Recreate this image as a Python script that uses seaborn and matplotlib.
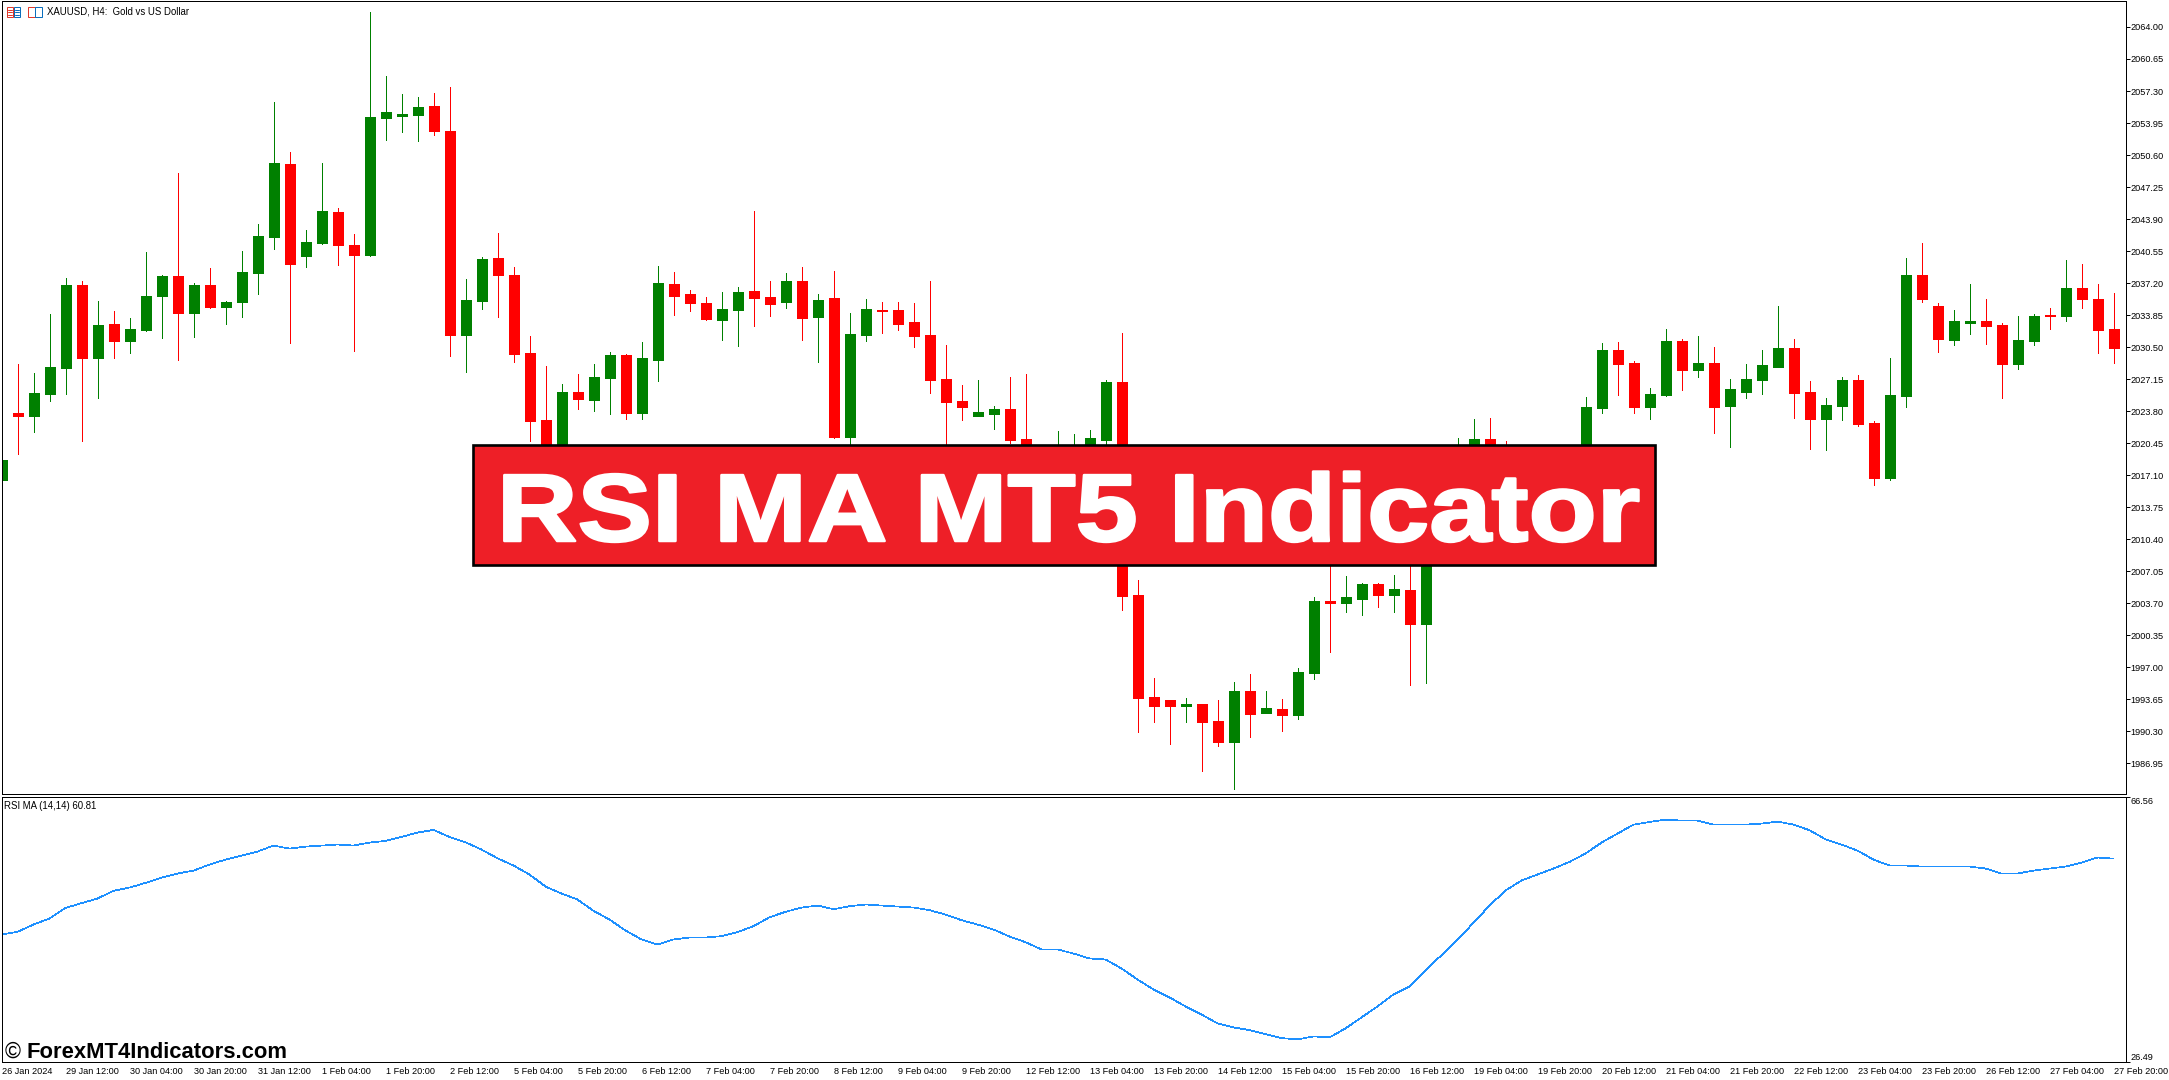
import matplotlib
matplotlib.use('Agg')
import matplotlib.pyplot as plt
import matplotlib.patheffects as pe
from matplotlib.patches import Rectangle
from matplotlib.transforms import Affine2D
import pandas as pd
import seaborn as sns

# XAUUSD H4 candles (the ones behind the banner are guesses)
opens = [
    2016.59, 2023.59, 2023.28, 2025.58, 2028.30, 2036.97, 2029.34, 2032.90, 2031.12, 2032.27,
    2035.82, 2037.91, 2034.05, 2036.97, 2034.67, 2035.20, 2038.23, 2041.99, 2049.62, 2040.01,
    2041.36, 2044.61, 2041.16, 2040.11, 2054.43, 2054.64, 2054.75, 2055.69, 2053.07, 2031.75,
    2035.30, 2039.80, 2038.02, 2029.86, 2022.86, 2017.63, 2025.79, 2024.95, 2027.25, 2029.65,
    2023.59, 2029.13, 2037.08, 2036.03, 2035.09, 2033.32, 2034.35, 2036.33, 2035.71, 2035.18,
    2037.41, 2033.65, 2035.63, 2021.08, 2031.74, 2034.35, 2034.35, 2033.11, 2031.74, 2027.16,
    2024.84, 2023.27, 2023.48, 2024.01, 2020.87, 2018.80, 2018.60, 2019.20, 2019.60, 2020.75,
    2026.83, 2004.54, 1993.88, 1993.59, 1992.97, 1993.17, 1991.40, 1989.21, 1994.54, 1992.22,
    1992.64, 1992.02, 1996.40, 2003.92, 2003.72, 2004.13, 2005.70, 2004.54, 2005.08, 2001.52,
    2016.00, 2018.00, 2019.80, 2020.85, 2019.80, 2018.00, 2015.00, 2016.00, 2018.50, 2018.00,
    2024.09, 2030.16, 2028.80, 2024.20, 2025.45, 2031.10, 2028.07, 2028.80, 2024.30, 2025.77,
    2027.02, 2028.38, 2030.37, 2025.77, 2022.94, 2024.30, 2027.02, 2022.53, 2016.78, 2025.35,
    2038.00, 2034.86, 2031.20, 2033.08, 2033.19, 2032.77, 2028.69, 2031.10, 2033.82, 2033.71,
    2036.74, 2035.59, 2032.35,
]
closes = [
    2018.68, 2023.28, 2025.68, 2028.40, 2036.97, 2029.34, 2032.79, 2031.12, 2032.37, 2035.82,
    2037.91, 2034.05, 2036.97, 2034.67, 2035.20, 2038.33, 2042.10, 2049.73, 2039.17, 2041.47,
    2044.71, 2041.16, 2040.11, 2054.54, 2055.06, 2054.85, 2055.58, 2053.07, 2031.75, 2035.40,
    2039.69, 2038.02, 2029.76, 2022.75, 2017.63, 2025.79, 2025.05, 2027.35, 2029.65, 2023.59,
    2029.34, 2037.18, 2035.82, 2035.09, 2033.42, 2034.47, 2036.25, 2035.63, 2034.97, 2037.41,
    2033.52, 2035.42, 2021.08, 2031.87, 2034.47, 2034.24, 2032.90, 2031.62, 2027.03, 2024.76,
    2024.22, 2023.68, 2024.01, 2020.75, 2019.50, 2019.40, 2019.50, 2019.60, 2020.98, 2026.83,
    2004.46, 1993.79, 1992.97, 1992.97, 1993.17, 1991.27, 1989.21, 1994.54, 1992.10, 1992.76,
    1992.02, 1996.52, 2003.92, 2003.72, 2004.34, 2005.70, 2004.54, 2005.20, 2001.52, 2011.00,
    2013.00, 2019.90, 2020.85, 2018.50, 2017.00, 2016.00, 2018.00, 2018.50, 2017.00, 2024.20,
    2030.16, 2028.69, 2024.20, 2025.56, 2031.10, 2028.07, 2028.80, 2024.20, 2026.08, 2027.13,
    2028.59, 2030.37, 2025.66, 2022.94, 2024.41, 2027.02, 2022.42, 2016.78, 2025.45, 2038.00,
    2035.49, 2031.31, 2033.19, 2033.19, 2032.67, 2028.69, 2031.20, 2033.71, 2033.71, 2036.74,
    2035.49, 2032.25, 2030.37,
]
highs = [
    2020.00, 2028.78, 2027.77, 2033.94, 2037.71, 2037.39, 2035.30, 2034.25, 2033.52, 2040.42,
    2038.02, 2048.68, 2037.18, 2038.75, 2035.30, 2040.53, 2043.35, 2056.11, 2050.88, 2042.72,
    2049.73, 2045.02, 2042.31, 2065.52, 2058.82, 2056.94, 2056.63, 2057.05, 2057.67, 2037.60,
    2039.90, 2042.41, 2038.86, 2031.64, 2028.50, 2026.62, 2027.67, 2028.71, 2029.97, 2029.76,
    2031.01, 2038.96, 2038.33, 2036.45, 2035.72, 2036.25, 2036.75, 2044.73, 2037.41, 2038.24,
    2038.86, 2036.04, 2038.52, 2034.06, 2035.51, 2035.18, 2035.18, 2035.09, 2037.41, 2030.71,
    2026.54, 2027.03, 2024.30, 2027.36, 2027.65, 2019.60, 2021.71, 2021.40, 2021.81, 2027.03,
    2031.95, 2006.11, 1995.94, 1993.63, 1993.79, 1993.22, 1993.59, 1995.45, 1996.32, 1994.54,
    1993.67, 1996.90, 2004.34, 2012.40, 2006.57, 2005.82, 2005.82, 2006.65, 2012.00, 2014.00,
    2018.00, 2020.96, 2022.94, 2023.05, 2020.64, 2019.50, 2019.00, 2019.00, 2019.50, 2025.24,
    2030.89, 2030.99, 2029.01, 2026.18, 2032.35, 2031.31, 2031.62, 2030.47, 2027.13, 2028.69,
    2030.16, 2034.86, 2031.31, 2026.92, 2025.14, 2027.33, 2027.54, 2022.73, 2029.32, 2039.88,
    2041.45, 2035.07, 2034.34, 2037.16, 2035.59, 2032.98, 2033.71, 2033.92, 2034.65, 2039.57,
    2039.25, 2037.06, 2036.22,
]
lows = [
    2015.00, 2019.30, 2021.60, 2024.85, 2025.58, 2020.66, 2025.16, 2029.34, 2029.86, 2032.16,
    2031.43, 2029.13, 2031.54, 2034.57, 2032.90, 2033.63, 2036.03, 2040.74, 2030.91, 2038.85,
    2041.26, 2039.06, 2030.07, 2040.01, 2052.13, 2052.97, 2052.03, 2052.66, 2029.55, 2027.88,
    2034.46, 2033.63, 2028.92, 2020.66, 2016.50, 2016.50, 2024.01, 2023.80, 2023.49, 2022.96,
    2022.96, 2026.94, 2033.84, 2034.25, 2033.31, 2031.21, 2030.59, 2032.70, 2033.73, 2034.56,
    2031.21, 2028.93, 2021.00, 2020.33, 2031.12, 2031.95, 2032.28, 2030.50, 2025.67, 2016.60,
    2022.86, 2023.27, 2021.91, 2020.46, 2018.50, 2018.20, 2018.00, 2018.00, 2019.00, 2020.00,
    2003.01, 1990.28, 1991.27, 1989.00, 1991.27, 1986.15, 1988.79, 1984.29, 1989.70, 1992.22,
    1990.36, 1991.60, 1995.78, 1998.59, 2002.77, 2002.48, 2003.30, 2002.77, 1995.16, 1995.37,
    2011.00, 2016.00, 2018.00, 2017.00, 2015.00, 2015.00, 2014.00, 2015.00, 2016.00, 2017.00,
    2023.57, 2025.45, 2023.57, 2022.94, 2025.35, 2025.98, 2027.33, 2021.48, 2020.02, 2025.14,
    2025.56, 2028.38, 2023.05, 2019.81, 2019.70, 2022.84, 2022.21, 2016.04, 2016.57, 2024.20,
    2035.18, 2029.95, 2030.68, 2031.83, 2030.78, 2025.14, 2028.17, 2030.68, 2032.35, 2033.29,
    2034.65, 2029.84, 2028.80,
]
rsi_ma = [
    45.74, 46.14, 47.25, 48.15, 49.76, 50.47, 51.17, 52.33, 52.83, 53.53,
    54.34, 54.94, 55.39, 56.30, 57.05, 57.66, 58.26, 59.17, 58.71, 59.01,
    59.17, 59.32, 59.17, 59.62, 59.87, 60.47, 61.13, 61.53, 60.47, 59.67,
    58.56, 57.25, 56.15, 54.79, 52.98, 51.92, 51.02, 49.31, 48.00, 46.34,
    44.99, 44.23, 44.99, 45.29, 45.29, 45.49, 46.09, 47.00, 48.35, 49.16,
    49.81, 50.11, 49.56, 50.01, 50.27, 50.11, 49.96, 49.81, 49.41, 48.76,
    47.90, 47.25, 46.49, 45.44, 44.58, 43.48, 43.48, 42.87, 42.12, 41.97,
    40.61, 38.95, 37.44, 36.24, 34.88, 33.67, 32.32, 31.71, 31.31, 30.71,
    30.10, 29.90, 30.35, 30.20, 31.56, 33.22, 34.88, 36.69, 37.90, 40.36,
    42.62, 44.99, 47.50, 50.11, 52.38, 53.89, 54.79, 55.70, 56.70, 57.96,
    59.62, 60.98, 62.33, 62.73, 63.09, 62.94, 62.94, 62.33, 62.33, 62.33,
    62.48, 62.79, 62.33, 61.48, 60.12, 59.32, 58.41, 57.05, 56.15, 56.15,
    56.00, 56.00, 56.00, 56.00, 55.70, 54.94, 54.94, 55.39, 55.70, 56.00,
    56.60, 57.36, 57.20,
]
price_ticks = [1986.95, 1990.30, 1993.65, 1997.00, 2000.35, 2003.70, 2007.05, 2010.40,
               2013.75, 2017.10, 2020.45, 2023.80, 2027.15, 2030.50, 2033.85, 2037.20,
               2040.55, 2043.90, 2047.25, 2050.60, 2053.95, 2057.30, 2060.65, 2064.00]
rsi_ticks = [26.49, 66.56]
date_labels = ['26 Jan 2024', '29 Jan 12:00', '30 Jan 04:00', '30 Jan 20:00', '31 Jan 12:00',
               '1 Feb 04:00', '1 Feb 20:00', '2 Feb 12:00', '5 Feb 04:00', '5 Feb 20:00',
               '6 Feb 12:00', '7 Feb 04:00', '7 Feb 20:00', '8 Feb 12:00', '9 Feb 04:00',
               '9 Feb 20:00', '12 Feb 12:00', '13 Feb 04:00', '13 Feb 20:00', '14 Feb 12:00',
               '15 Feb 04:00', '15 Feb 20:00', '16 Feb 12:00', '19 Feb 04:00', '19 Feb 20:00',
               '20 Feb 12:00', '21 Feb 04:00', '21 Feb 20:00', '22 Feb 12:00', '23 Feb 04:00',
               '23 Feb 20:00', '26 Feb 12:00', '27 Feb 04:00', '27 Feb 20:00']

W, H = 2169, 1080
BULL = '#008000'
BEAR = '#FF0000'
LINE_W = 0.72  # one pixel at dpi 100
SMALL = 6.55

sns.set_theme(style='white')
plt.rcParams['font.family'] = ['Liberation Sans', 'DejaVu Sans']

# long format, one short line per candle for the wick and one for the body
rows_wick, rows_body = [], []
for i in range(len(opens)):
    side = 'up' if closes[i] >= opens[i] else 'down'
    rows_wick += [(i, highs[i], side), (i, lows[i], side)]
    rows_body += [(i, opens[i], side), (i, closes[i], side)]
wicks = pd.DataFrame(rows_wick, columns=['bar', 'price', 'side'])
bodies = pd.DataFrame(rows_body, columns=['bar', 'price', 'side'])
rsi = pd.DataFrame({'bar': range(len(rsi_ma)), 'value': rsi_ma})
palette = {'up': BULL, 'down': BEAR}

fig = plt.figure(figsize=(W / 100, H / 100), dpi=100, facecolor='white')


def panel(top, bottom):
    return fig.add_axes([1.5 / W, 1 - bottom / H, 2124 / W, (bottom - top) / H])


ax1 = panel(0.5, 794.4)
ax2 = panel(796.6, 1062)

for data, width in [(wicks, LINE_W), (bodies, 7.92)]:
    sns.lineplot(data=data, x='bar', y='price', hue='side', units='bar', estimator=None,
                 palette=palette, linewidth=width, legend=False, ax=ax1,
                 solid_capstyle='butt', antialiased=False)
sns.lineplot(data=rsi, x='bar', y='value', color='#1E90FF', linewidth=0.5, ax=ax2,
             estimator=None, antialiased=False)

xlim = (0, 2124 / 16)
ax1.set_xlim(xlim)
ax2.set_xlim(xlim)
ax1.set_ylim(1983.71, 2066.77)
ax2.set_ylim(26.49, 66.56)

ax1.set_xticks([])
ax1.set_yticks(price_ticks, [f'{v:.2f}' for v in price_ticks])
ax2.set_yticks(rsi_ticks, [f'{v:.2f}' for v in rsi_ticks])
ax2.set_xticks(range(0, len(opens), 4), date_labels, ha='left')

for ax in (ax1, ax2):
    ax.set_xlabel('')
    ax.set_ylabel('')
    ax.yaxis.tick_right()
    ax.tick_params(axis='both', length=2.9, width=LINE_W, pad=0.8, labelsize=SMALL,
                   colors='black', direction='out')
    for spine in ax.spines.values():
        spine.set_visible(True)
        spine.set_color('black')
        spine.set_linewidth(LINE_W)

# the two pane scale labels sit inside the pane, not on their ticks
for tick, align in zip(ax2.yaxis.get_major_ticks(), ['bottom', 'top']):
    tick.label2.set_va(align)

# everything that sits over the chart, in picture pixels
over = fig.add_axes([0, 0, 1, 1], zorder=5)
over.set_xlim(0, W)
over.set_ylim(H, 0)
over.axis('off')

# the two little MT5 icons in the corner
for x0, col in [(6.5, '#E0392B'), (13.5, '#0A6EBD'), (28, '#E0392B'), (35, '#0A6EBD')]:
    over.add_patch(Rectangle((x0, 7), 6.5, 9.5, fill=False, ec=col, lw=LINE_W))
for y0 in (9.5, 12, 14.5):
    over.plot([8, 12], [y0, y0], color='#E0392B', lw=LINE_W)
    over.plot([15, 19], [y0, y0], color='#0A6EBD', lw=LINE_W)

over.text(47, 11.8, 'XAUUSD, H4:  Gold vs US Dollar', fontsize=6.9, va='center', color='black')
over.text(4.5, 805.7, 'RSI MA (14,14) 60.81', fontsize=6.95, va='center', color='black')
over.text(5, 1057.7, '©', fontsize=15.5, va='baseline', color='black')
over.text(26.5, 1057.7, 'ForexMT4Indicators.com', fontsize=15.85, fontweight='bold',
          va='baseline', color='black')

over.add_patch(Rectangle((473, 445), 1182, 120, fc='#EE1F27', ec='black', lw=1.9))


class WideText(pe.AbstractPathEffect):
    # the banner lettering is heavier and spaced wider than the font: stretch and stroke it
    def __init__(self, sx, x0, stroke):
        super().__init__()
        self.sx = sx
        self.x0 = x0
        self.stroke = stroke

    def draw_path(self, renderer, gc, tpath, affine, rgbFace=None):
        wide = affine + Affine2D().translate(-self.x0, 0).scale(self.sx, 1).translate(self.x0, 0)
        gc0 = renderer.new_gc()
        gc0.copy_properties(gc)
        gc0.set_linewidth(self.stroke)
        gc0.set_foreground('white')
        renderer.draw_path(gc0, tpath, wide, rgbFace)
        gc0.restore()


over.text(1068.5, 541, 'RSI MA MT5 Indicator', fontsize=69, fontweight='bold', color='white',
          ha='center', va='baseline', path_effects=[WideText(1.165, 1068.5, 1.8)])

fig.savefig('out.png', dpi=100, facecolor='white')
